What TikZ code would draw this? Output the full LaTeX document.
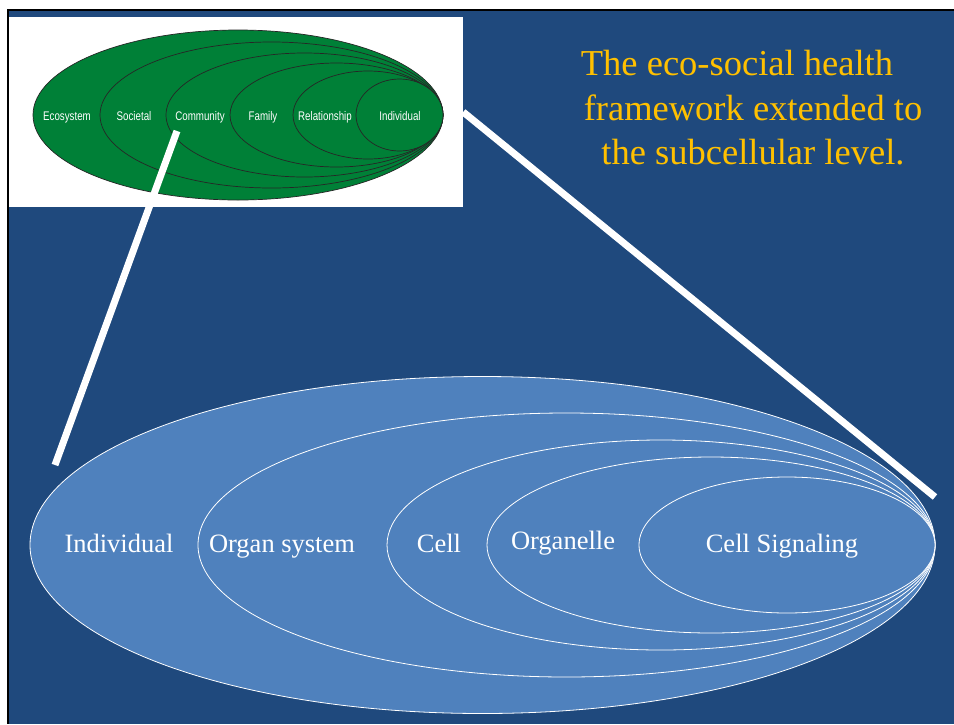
\documentclass[tikz,border=0pt]{standalone}
\usepackage{fontspec}
\setmainfont{Liberation Serif}
\newfontfamily\narrowsans[FakeStretch=0.78]{Liberation Sans}
\usepackage{xcolor}
\usepackage{tikz}
\usetikzlibrary{shapes.geometric}
\definecolor{slideblue}{RGB}{31,73,125}
\definecolor{ringblue}{RGB}{79,129,189}
\definecolor{leafgreen}{RGB}{0,128,55}
\definecolor{titlegold}{RGB}{255,192,0}

\begin{document}
\begin{tikzpicture}[x=1pt, y=-1pt, every node/.style={inner sep=0pt}]
  \tikzstyle{ring}=[ellipse, draw=white, line width=0.8pt, fill=ringblue]
  \tikzstyle{leaf}=[ellipse, draw=black!85, line width=0.7pt, fill=leafgreen]
  \tikzstyle{ringlabel}=[anchor=base, text=white, font=\fontsize{26.5}{30}\selectfont]
  \tikzstyle{leaflabel}=[anchor=base, text=white, font=\narrowsans\fontsize{12.5}{14}\selectfont]
  \tikzstyle{zoomline}=[white, line width=7pt]
  \useasboundingbox (0,0) rectangle (954,724);
  % slide frame
  \fill[white] (0,0) rectangle (954,724);
  \fill[slideblue] (9,11) rectangle (954,724);
  \fill[black] (7,9) rectangle (954,11);
  \fill[black] (7,9) rectangle (9,724);
  % subcellular rings
  \node[ring, minimum width=905pt, minimum height=337pt] (individual) at (482.5,545) {};
  \node[ring, minimum width=737pt, minimum height=264pt] (organ) at (566.5,545) {};
  \node[ring, minimum width=548pt, minimum height=210pt] (cell) at (661,545) {};
  \node[ring, minimum width=448pt, minimum height=176pt] (organelle) at (711,545) {};
  \node[ring, minimum width=296pt, minimum height=136pt] (signal) at (787,545) {};
  \node[ringlabel] (individualtxt) at (119,552) {Individual};
  \node[ringlabel] (organtxt) at (282,552) {Organ system};
  \node[ringlabel] (celltxt) at (439,552) {Cell};
  \node[ringlabel] (organelletxt) at (563,549) {Organelle};
  \node[ringlabel] (signaltxt) at (782,552) {Cell Signaling};
  % eco-social inset
  \node[fill=white, minimum width=454pt, minimum height=190pt] (inset) at (236,112) {};
  \node[leaf, minimum width=410pt, minimum height=170pt] (ecosystem) at (238,115) {};
  \node[leaf, minimum width=343pt, minimum height=146pt] (societal) at (271.5,115) {};
  \node[leaf, minimum width=277pt, minimum height=124pt] (community) at (304.5,115) {};
  \node[leaf, minimum width=213pt, minimum height=104pt] (family) at (336.5,115) {};
  \node[leaf, minimum width=150pt, minimum height=88pt] (relationship) at (368,115) {};
  \node[leaf, minimum width=87pt, minimum height=72pt] (person) at (399.5,115) {};
  \node[leaflabel] (ecosystemtxt) at (67,120) {Ecosystem};
  \node[leaflabel] (societaltxt) at (134,120) {Societal};
  \node[leaflabel] (communitytxt) at (200,120) {Community};
  \node[leaflabel] (familytxt) at (263,120) {Family};
  \node[leaflabel] (relationshiptxt) at (325,120) {Relationship};
  \node[leaflabel] (persontxt) at (400,120) {Individual};
  % zoom lines
  \coordinate (zoomtop) at (177,131);
  \coordinate (zoomfoot) at (55,465);
  \coordinate (ringtip) at (935,497);
  \draw[zoomline] (zoomtop) -- (zoomfoot);
  \draw[zoomline] (inset.east) -- (ringtip);
  \node[text=titlegold, align=center, font=\fontsize{36.5}{44.5}\selectfont] (title) at (753,108)
    {The eco-social health\hspace*{32pt}\\framework extended to\\the subcellular level.};
\end{tikzpicture}
\end{document}
